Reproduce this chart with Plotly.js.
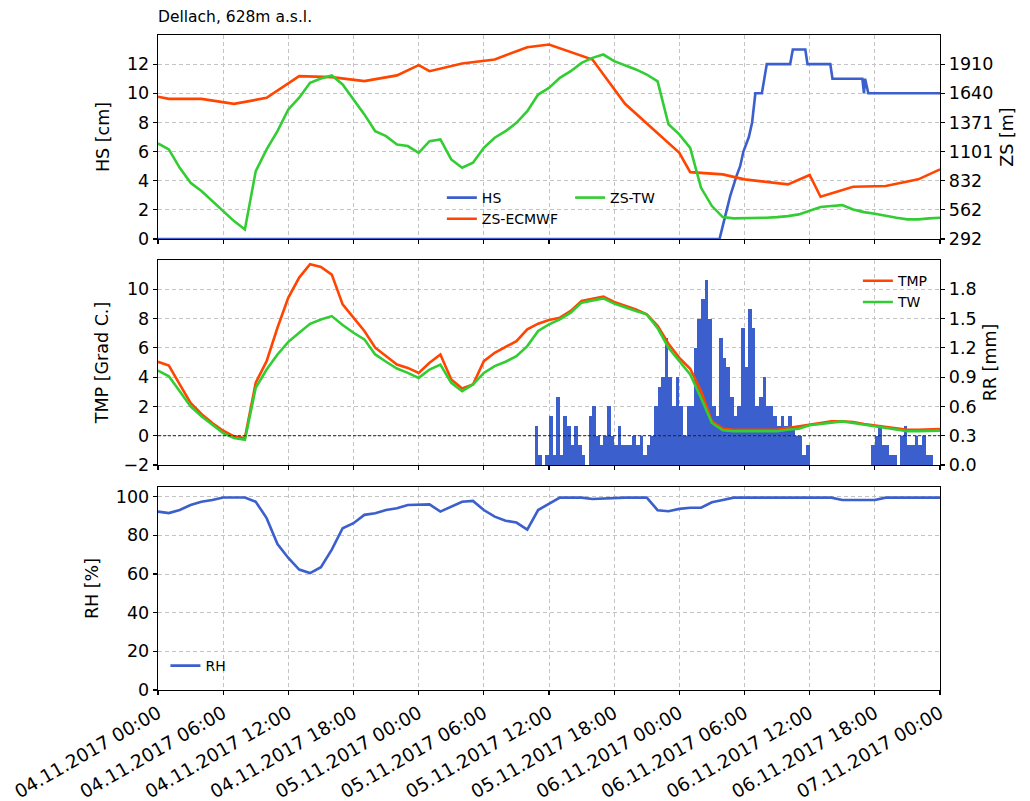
<!DOCTYPE html>
<html>
<head>
<meta charset="utf-8">
<script src="https://cdn.plot.ly/plotly-3.0.1.min.js"></script>
<style>html,body{margin:0;padding:0;background:#fff;}#chart{width:1030px;height:801px;}</style>
</head>
<body>
<div id="chart"></div>
<script>
// ---------------- data ----------------
const startDate = Date.UTC(2017, 10, 4, 0, 0); // 04.11.2017 00:00
// hourly series, hour 0 .. 72
const zsTW = [1176,1121,951,813,736,643,551,458,381,921,1121,1290,1491,1599,1737,1777,1805,1722,1583,1445,1290,1244,1167,1152,1090,1198,1213,1028,951,998,1136,1229,1290,1367,1475,1629,1690,1783,1845,1922,1968,1999,1938,1901,1861,1814,1750,1354,1260,1136,766,597,495,483,483,489,489,495,504,520,551,588,597,606,566,541,526,504,489,474,474,483,489];
const tmp = [5.05,4.79,3.5,2.24,1.49,0.87,0.34,-0.05,-0.16,3.63,5.09,7.37,9.43,10.8,11.71,11.53,11.0,8.97,8.06,7.15,6.01,5.43,4.86,4.63,4.29,4.98,5.55,3.84,3.22,3.5,5.09,5.66,6.05,6.46,7.26,7.65,7.9,8.06,8.52,9.2,9.36,9.5,9.13,8.86,8.63,8.29,7.5,6.28,5.32,4.57,3.04,0.98,0.48,0.41,0.41,0.41,0.41,0.41,0.52,0.64,0.75,0.87,0.98,0.98,0.94,0.8,0.71,0.59,0.52,0.41,0.41,0.41,0.45];
const tw = [4.45,4.06,3.04,2.0,1.33,0.76,0.18,-0.16,-0.27,3.27,4.52,5.55,6.41,7.03,7.64,7.94,8.17,7.56,7.03,6.58,5.55,5.05,4.59,4.29,3.95,4.52,4.86,3.61,3.04,3.5,4.29,4.75,5.05,5.43,6.12,7.15,7.6,7.94,8.4,9.09,9.25,9.38,9.02,8.75,8.52,8.29,7.35,6.0,5.09,4.18,2.58,0.87,0.37,0.3,0.3,0.3,0.3,0.3,0.41,0.48,0.71,0.8,0.94,0.98,0.87,0.76,0.64,0.52,0.41,0.3,0.3,0.3,0.35];
const rh = [92.3,91.5,93.1,95.7,97.4,98.3,99.6,99.6,99.6,97.4,88.9,75.5,68.3,62.3,60.5,63.5,72.6,83.7,86.3,90.6,91.4,93.1,94,95.7,96,96,92.3,94.9,97.4,97.8,93.1,89.7,87.6,86.6,83.0,93.1,96.2,99.5,99.5,99.5,98.8,99.1,99.5,99.5,99.5,99.5,93.0,92.5,93.7,94.3,94.3,97.1,98.3,99.5,99.5,99.5,99.5,99.5,99.5,99.5,99.5,99.5,99.5,98.3,98.3,98.3,98.3,99.5,99.5,99.5,99.5,99.5,99.5];
// ZS-ECMWF, irregular times (hours since start)
const ecHours = [0,1,4,7,10,13,16,19,22,24,25,28,31,34,36,40,43,48,49,52,54,58,60,61,64,67,70,72];
const ecValues = [1608,1589,1589,1543,1598,1799,1790,1753,1806,1901,1845,1916,1953,2067,2092,1953,1543,1090,911,890,844,798,884,683,776,782,844,936];
// HS snow height, breakpoints (hours since start)
const hsHours = [0,51.7,52.2,52.7,53.3,53.6,53.9,54.4,54.7,55.0,55.6,56.05,58.2,58.45,59.6,59.8,61.9,62.1,64.85,65.0,65.1,65.4,72];
const hsValues = [0,0,1.5,3,4.4,5,6,7,8,10,10,12,12,13,13,12,12,11,11,10,11,10,10];
// RR precipitation, 20-minute bins starting at hour 34 (05.11.2017 10:00)
const rrStartHour = 34;
const rrStepHours = 1/3;
const rr = [0,0,0.4,0.1,0,0.1,0.5,0.1,0.7,0.1,0.5,0.4,0.2,0.4,0.2,0.1,0,0.5,0.6,0.3,0.2,0.3,0.6,0.3,0.2,0.4,0.2,0.2,0.2,0.3,0.2,0.3,0.1,0.2,0.3,0.6,0.8,0.9,1.3,0.9,0.6,0.9,0.6,0.3,0.6,0.6,1.2,1.5,1.7,1.9,1.5,0.6,0.5,1.3,1.1,1.0,0.7,0.5,0.6,1.4,1.0,1.6,1.4,0.6,0.7,0.9,0.6,0.6,0.5,0.4,0.5,0.4,0.5,0.4,0.3,0.3,0.1,0.2,0,0,0,0,0,0,0,0,0,0,0,0,0,0,0,0,0,0.2,0.3,0.4,0.2,0.2,0.1,0.1,0,0.3,0.4,0.2,0.2,0.3,0.2,0.3,0.1,0.1,0,0];
// ticks
const hsTicks = [0,2,4,6,8,10,12];
const zsTicks = [292,562,832,1101,1371,1640,1910];
const tmpTicks = [-2,0,2,4,6,8,10];
const rrTicks = [0,0.3,0.6,0.9,1.2,1.5,1.8];
const rhTicks = [0,20,40,60,80,100];

// ---------------- helpers ----------------
function ts(h){
  return new Date(startDate + Math.round(h*3600000)).toISOString().slice(0,19).replace('T',' ');
}
const hourlyT = tmp.map((_, i) => ts(i));
const ecT = ecHours.map(ts);
const hsT = hsHours.map(ts);
const rrT = rr.map((_, k) => ts(rrStartHour + k*rrStepHours));

const BLUE = '#3b5fcd', RED = '#ff4500', GREEN = '#32cd32';
const LW = 2.6;

const data = [
  {x: hsT, y: hsValues, type:'scatter', mode:'lines', name:'HS', xaxis:'x', yaxis:'y', line:{color:BLUE, width:LW}, legend:'legend'},
  {x: ecT, y: ecValues, type:'scatter', mode:'lines', name:'ZS-ECMWF', xaxis:'x', yaxis:'y2', line:{color:RED, width:LW}, legend:'legend'},
  {x: hourlyT, y: zsTW, type:'scatter', mode:'lines', name:'ZS-TW', xaxis:'x', yaxis:'y2', line:{color:GREEN, width:LW}, legend:'legend2'},
  {x: rrT, y: rr, type:'bar', name:'RR', xaxis:'x2', yaxis:'y3', marker:{color:BLUE, line:{width:0}}, width: rrStepHours*3600000, offset:0, showlegend:false},
  {x: hourlyT, y: tmp, type:'scatter', mode:'lines', name:'TMP', xaxis:'x2', yaxis:'y4', line:{color:RED, width:LW}, legend:'legend3'},
  {x: hourlyT, y: tw, type:'scatter', mode:'lines', name:'TW', xaxis:'x2', yaxis:'y4', line:{color:GREEN, width:LW}, legend:'legend3'},
  {x: hourlyT, y: rh, type:'scatter', mode:'lines', name:'RH', xaxis:'x3', yaxis:'y5', line:{color:BLUE, width:LW}, legend:'legend4'}
];

const GRID = '#c4c4c4', GDASH = '4px,3px';
const xCommon = {
  type:'date', range:[ts(0), ts(72)], tick0: ts(0), dtick: 6*3600000,
  ticks:'outside', ticklen:4, tickwidth:1.2, tickcolor:'#000',
  showline:true, linecolor:'#000', linewidth:1.3, mirror:true,
  showgrid:true, gridcolor:GRID, griddash:GDASH, gridwidth:1, zeroline:false
};
const yCommon = {
  ticks:'outside', ticklen:4, tickwidth:1.2, tickcolor:'#000',
  showline:true, linecolor:'#000', linewidth:1.3, zeroline:false,
  tickfont:{size:17.5}, tickmode:'array'
};
const legCommon = {bgcolor:'rgba(0,0,0,0)', borderwidth:0, font:{size:14}, xanchor:'left', yanchor:'top', tracegroupgap:0};

const layout = {
  width:1030, height:801,
  margin:{l:158, r:90, t:35, b:111, pad:0},
  paper_bgcolor:'#fff', plot_bgcolor:'#fff',
  font:{family:'DejaVu Sans, sans-serif', size:17, color:'#000'},
  title:{text:'Dellach, 628m a.s.l.', xref:'container', x:158/1030, xanchor:'left', yref:'container', y:1-17/801, yanchor:'middle', font:{size:15.5}},
  bargap:0,
  showlegend:true,
  xaxis: Object.assign({}, xCommon, {anchor:'y', showticklabels:false}),
  xaxis2: Object.assign({}, xCommon, {anchor:'y3', showticklabels:false}),
  xaxis3: Object.assign({}, xCommon, {anchor:'y5', showticklabels:true, tickangle:-30, tickformat:'%d.%m.%Y %H:%M', tickfont:{size:18.5}}),
  yaxis: Object.assign({}, yCommon, {domain:[0.6885,1], anchor:'x', side:'left', range:[0,14], tickvals:hsTicks,
    showgrid:true, gridcolor:GRID, griddash:GDASH, title:{text:'HS [cm]', font:{size:17.5}, standoff:12}}),
  yaxis2: Object.assign({}, yCommon, {overlaying:'y', anchor:'x', side:'right', range:[292, 292+14*(1910-292)/12], tickvals:zsTicks,
    ticktext: zsTicks.map(String), showgrid:false, title:{text:'ZS [m]', font:{size:17.5}, standoff:8}}),
  yaxis3: Object.assign({}, yCommon, {domain:[0.3435,0.6565], anchor:'x2', side:'right', range:[0,2.1], tickvals:rrTicks, tickformat:'.1f',
    showgrid:true, gridcolor:GRID, griddash:GDASH, title:{text:'RR [mm]', font:{size:17.5}, standoff:8}}),
  yaxis4: Object.assign({}, yCommon, {overlaying:'y3', anchor:'x2', side:'left', range:[-2,12], tickvals:tmpTicks,
    showgrid:false, title:{text:'TMP [Grad C.]', font:{size:17.5}, standoff:10}}),
  yaxis5: Object.assign({}, yCommon, {domain:[0,0.3099], anchor:'x3', side:'left', range:[0,105], tickvals:rhTicks, mirror:true,
    showgrid:true, gridcolor:GRID, griddash:GDASH, title:{text:'RH [%]', font:{size:17.5}, standoff:12}}),
  legend: Object.assign({}, legCommon, {x:0.363, y:0.7756}),
  legend2: Object.assign({}, legCommon, {x:0.527, y:0.7756}),
  legend3: Object.assign({}, legCommon, {x:0.895, y:0.6486}),
  legend4: Object.assign({}, legCommon, {x:0.0095, y:0.061}),
  shapes:[
    {type:'line', xref:'x2 domain', x0:0, x1:1, yref:'y4', y0:0, y1:0, layer:'above', line:{color:'#222', width:1, dash:'3px,2px'}}
  ]
};

Plotly.newPlot('chart', data, layout, {displayModeBar:false, staticPlot:true});
</script>
</body>
</html>
